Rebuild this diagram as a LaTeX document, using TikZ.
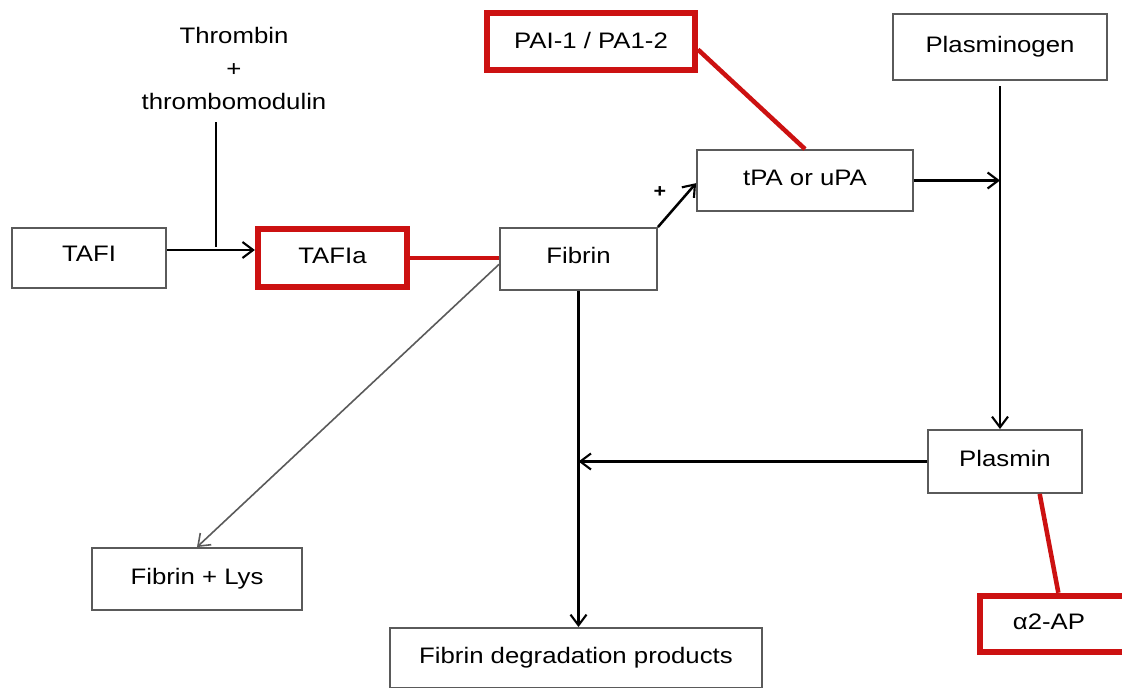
\documentclass[tikz,border=0pt]{standalone}
\usepackage{fontspec}
\setmainfont{Liberation Sans}[FakeStretch=1.15]
\usetikzlibrary{arrows.meta}
\definecolor{redb}{HTML}{CC1111}
\definecolor{boxgray}{HTML}{5A5A5A}
\begin{document}
\begin{tikzpicture}[x=0.75pt,y=-0.75pt,
  every node/.style={font=\fontsize{16.8pt}{20pt}\selectfont, inner sep=0pt},
  box/.style={draw=boxgray, line width=1.4pt, fill=white},
  redbox/.style={draw=redb, line width=4.4pt, fill=white},
  arr/.style={line width=1.9pt, -{Straight Barb[length=8pt,width=12pt,line width=1.6pt]}},
  grayarr/.style={draw=boxgray, line width=1.2pt, -{Straight Barb[length=8pt,width=12pt,line width=1.2pt]}},
  redline/.style={draw=redb, line width=3.4pt}]
\useasboundingbox (0,0) rectangle (1122,688);

\node[align=center, font=\fontsize{16.8pt}{24.75pt}\selectfont] (thr) at (234,68) {Thrombin\\+\\thrombomodulin};
\node[box, minimum width=115.5pt, minimum height=45pt] (tafi) at (89,258) {\raisebox{6pt}{TAFI}};
\node[redbox, minimum width=112pt, minimum height=43.5pt] (tafia) at (332.5,258) {\raisebox{3pt}{TAFIa}};
\node[box, minimum width=117.75pt, minimum height=46.5pt] (fib) at (578.5,259) {\raisebox{5pt}{Fibrin}};
\node[box, minimum width=162pt, minimum height=45.75pt] (tpa) at (805,180.5) {\raisebox{4pt}{tPA or uPA}};
\node[redbox, minimum width=156pt, minimum height=43pt] (pai) at (591,41.5) {\raisebox{1pt}{PAI-1 / PA1-2}};
\node[box, minimum width=160.5pt, minimum height=49.5pt] (plg) at (1000,47) {\raisebox{1pt}{Plasminogen}};
\node[box, minimum width=115.5pt, minimum height=47.25pt] (pls) at (1005,461.5) {\raisebox{4pt}{Plasmin}};
\node[box, minimum width=279pt, minimum height=45pt] (fdp) at (576,658) {\raisebox{3pt}{Fibrin degradation products}};
\node[box, minimum width=157.5pt, minimum height=46.5pt] (lys) at (197,579) {\raisebox{3pt}{Fibrin + Lys}};
\node[redbox, minimum width=110pt, minimum height=42.5pt] (a2) at (1053,624) {\hspace*{-6pt}\raisebox{3pt}{α2-AP}};
\node (plus) at (660,192) {\fontsize{14pt}{16pt}\selectfont\textbf{+}};

\coordinate (j1) at (216,250);
\draw[line width=1.9pt] (thr.south -| j1) ++(0,13) -- ([yshift=2pt]j1);
\draw[arr] (tafi.east |- j1) -- (j1 -| tafia.west);
\draw[redline] (tafia.east) -- (tafia.east -| fib.west);
\draw[arr] (fib.north east) -- ([yshift=-2pt]tpa.west);
\draw[redline] ([yshift=-6pt]pai.east) -- (tpa.north);
\draw[arr] (tpa.east) -- (tpa.east -| plg.south);
\draw[arr, shorten <=4pt] (plg.south) -- (plg.south |- pls.north);
\draw[arr] (pls.west) -- (pls.west -| fib.south);
\draw[arr] (fib.south) -- (fib.south |- fdp.north);
\draw[grayarr] ([yshift=-4pt]fib.west) -- (lys.north);
\draw[redline] ([xshift=26pt]pls.south) -- ([xshift=4pt]a2.north);
\end{tikzpicture}
\end{document}
